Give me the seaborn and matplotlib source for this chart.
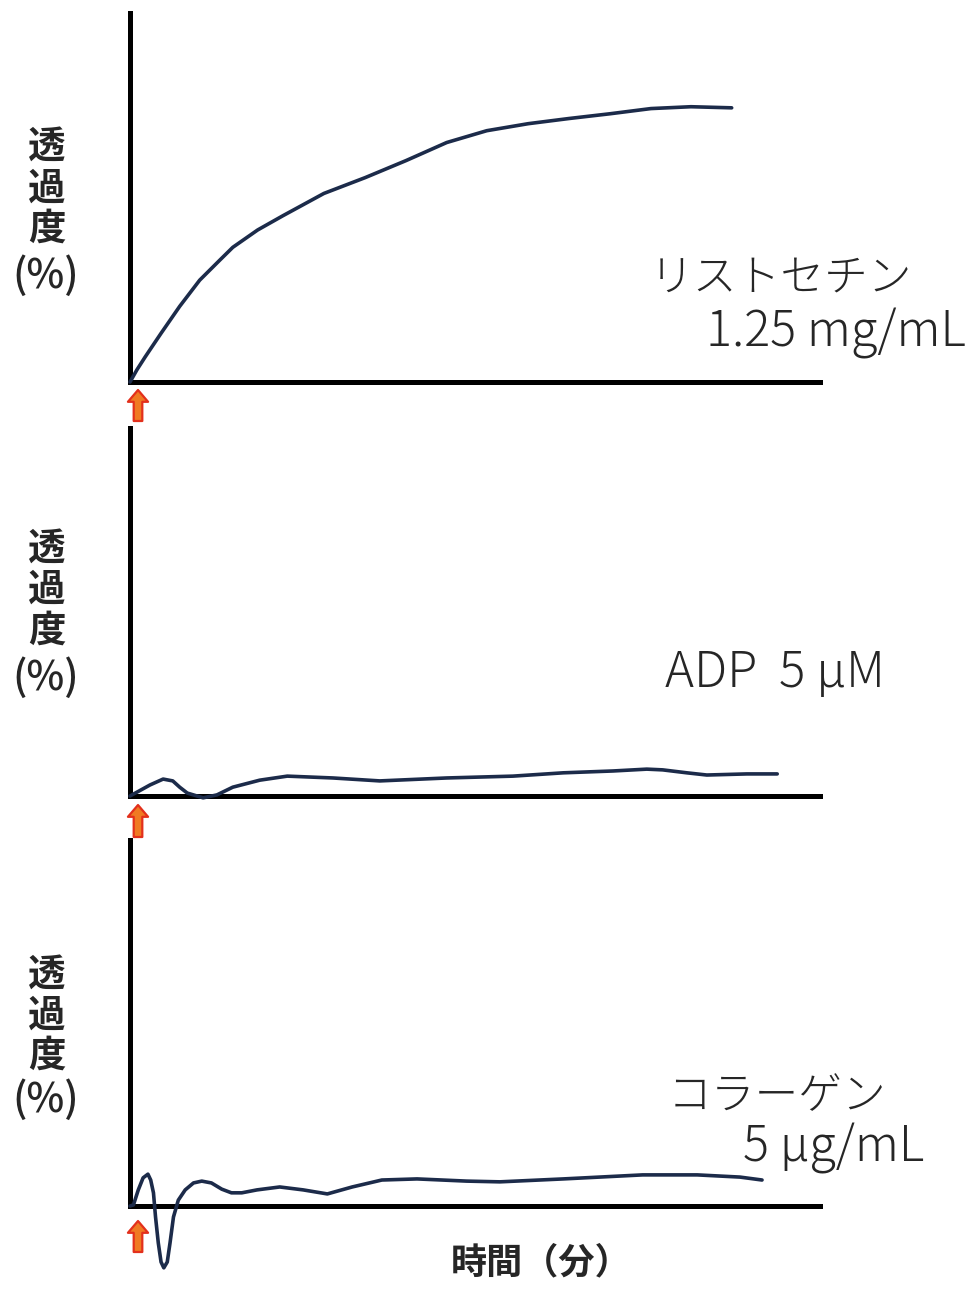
import numpy as np
import pandas as pd
import matplotlib
matplotlib.use("Agg")
import matplotlib.pyplot as plt
import matplotlib.transforms as mtransforms
import seaborn as sns

# ---------------- data ----------------
# time (min, arbitrary scale 0-10) and transmittance (%)
risto_t = [0.00, 0.10, 0.22, 0.45, 0.72, 1.01, 1.30, 1.49, 1.85, 2.22, 2.81, 3.41,
           4.00, 4.59, 5.17, 5.77, 6.36, 6.96, 7.55, 8.13, 8.72]
risto_y = [0.0, 3.3, 6.8, 13.2, 20.5, 27.6, 33.0, 36.5, 41.2, 45.1, 51.1, 55.4,
           60.0, 64.9, 68.1, 70.0, 71.4, 72.7, 74.1, 74.6, 74.3]

adp_t = [0.00, 0.29, 0.48, 0.62, 0.72, 0.83, 1.06, 1.26, 1.49, 1.88, 2.28, 2.94,
         3.62, 4.59, 5.55, 6.28, 7.00, 7.49, 7.72, 8.07, 8.36, 8.94, 9.38]
adp_y = [0.0, 3.0, 4.6, 4.1, 2.4, 0.8, -0.5, 0.3, 2.4, 4.3, 5.4, 4.9,
         4.1, 4.9, 5.4, 6.3, 6.8, 7.3, 7.1, 6.3, 5.7, 6.0, 6.0]

coll_t = [0.00, 0.05, 0.12, 0.19, 0.26, 0.30, 0.34, 0.37, 0.41, 0.45, 0.49, 0.54,
          0.58, 0.63, 0.70, 0.80, 0.92, 1.04, 1.18, 1.33, 1.47, 1.62, 1.84, 2.17,
          2.51, 2.86, 3.22, 3.65, 4.16, 4.88, 5.36, 6.28, 7.43, 8.22, 8.84, 9.16]
coll_y = [0.0, 0.3, 4.4, 7.7, 8.7, 7.1, 3.6, -3.0, -10.1, -15.3, -16.9, -15.3,
          -10.1, -3.0, 1.6, 4.4, 6.3, 6.8, 6.3, 4.6, 3.6, 3.6, 4.4, 5.2,
          4.4, 3.3, 5.2, 7.1, 7.4, 6.8, 6.6, 7.4, 8.5, 8.5, 7.9, 7.1]

agonist_names = ["リストセチン", "ADP", "コラーゲン"]
agonist_doses = ["1.25 mg/mL", "5 μM", "5 μg/mL"]
ylabel_chars = ["透", "過", "度"]
ylabel_unit = "(%)"
xlabel_text = "時間（分）"

# ---------------- style ----------------
sns.set_style("white")
plt.rcParams["font.family"] = ["Noto Sans CJK JP", "DejaVu Sans"]

W, H = 980, 1294
fig = plt.figure(figsize=(W / 100, H / 100), dpi=100)

def fx(px):
    return px / W

def fy(py):
    return 1 - py / H

line_color = "#1c2b4a"
# (top_px, bottom_px)
panels = [(13, 382), (428, 796), (840, 1206)]
series = [(risto_t, risto_y), (adp_t, adp_y), (coll_t, coll_y)]
left_px, right_px = 130, 820

axes = []
for (top, bot), (t, y) in zip(panels, series):
    ax = fig.add_axes([fx(left_px), fy(bot), fx(right_px) - fx(left_px), (bot - top) / H])
    df = pd.DataFrame({"t": t, "y": y})
    sns.lineplot(data=df, x="t", y="y", ax=ax, color=line_color, linewidth=2.6,
                 estimator=None, sort=False)
    for l in ax.get_lines():
        l.set_clip_on(False)
        l.set_solid_capstyle("round")
        l.set_solid_joinstyle("round")
    ax.set_xlim(0, 10)
    ax.set_ylim(0, 100)
    ax.set_xticks([])
    ax.set_yticks([])
    ax.set_xlabel("")
    ax.set_ylabel("")
    for s in ["top", "right"]:
        ax.spines[s].set_visible(False)
    for s in ["left", "bottom"]:
        ax.spines[s].set_linewidth(3.6)
        ax.spines[s].set_color("black")
        ax.spines[s].set_zorder(1)
    ax.patch.set_alpha(0)
    axes.append(ax)

# arrows (agonist addition) below origin
arrow_px = [(390, 421), (805, 837), (1221, 1252)]
for ax, (tip, tail), (top, bot) in zip(axes, arrow_px, panels):
    tr_tip = ax.transAxes + mtransforms.ScaledTranslation(0, -(tip - bot) / 100, fig.dpi_scale_trans)
    tr_tail = ax.transAxes + mtransforms.ScaledTranslation(0, -(tail - bot) / 100, fig.dpi_scale_trans)
    xf = (138 - left_px) / (right_px - left_px)
    ax.annotate("", xy=(xf, 0), xycoords=tr_tip, xytext=(xf, 0), textcoords=tr_tail,
                arrowprops=dict(arrowstyle="simple,head_width=1.45,head_length=0.85,tail_width=0.62",
                                mutation_scale=10, fc="#F07A22", ec="#E3301C", lw=1.6,
                                shrinkA=0, shrinkB=0),
                annotation_clip=False)

# y labels
ylab_rows = [(146, 188, 228, 276), (548, 589, 630, 678), (974, 1015, 1055, 1100)]
for rows in ylab_rows:
    for ch, yy in zip(ylabel_chars, rows[:3]):
        fig.text(fx(47), fy(yy), ch, ha="center", va="center", fontsize=27, fontweight="bold")
    fig.text(fx(46), fy(rows[3]), ylabel_unit, ha="center", va="center", fontsize=29,
             fontweight="medium")

# agonist labels
fig.text(fx(650), fy(278), agonist_names[0], ha="left", va="center", fontsize=31.5, fontweight="light")
fig.text(fx(706), fy(333), agonist_doses[0], ha="left", va="center", fontsize=35, fontweight="light")
fig.text(fx(665), fy(673), agonist_names[1] + "  " + agonist_doses[1], ha="left", va="center",
         fontsize=35.5, fontweight="light")
fig.text(fx(668), fy(1097), agonist_names[2], ha="left", va="center", fontsize=31.5, fontweight="light")
fig.text(fx(743), fy(1148), agonist_doses[2], ha="left", va="center", fontsize=35, fontweight="light")

# x label
fig.text(fx(541), fy(1263), xlabel_text, ha="center", va="center", fontsize=26, fontweight="bold")

fig.savefig("out.png", dpi=100, facecolor="white")
